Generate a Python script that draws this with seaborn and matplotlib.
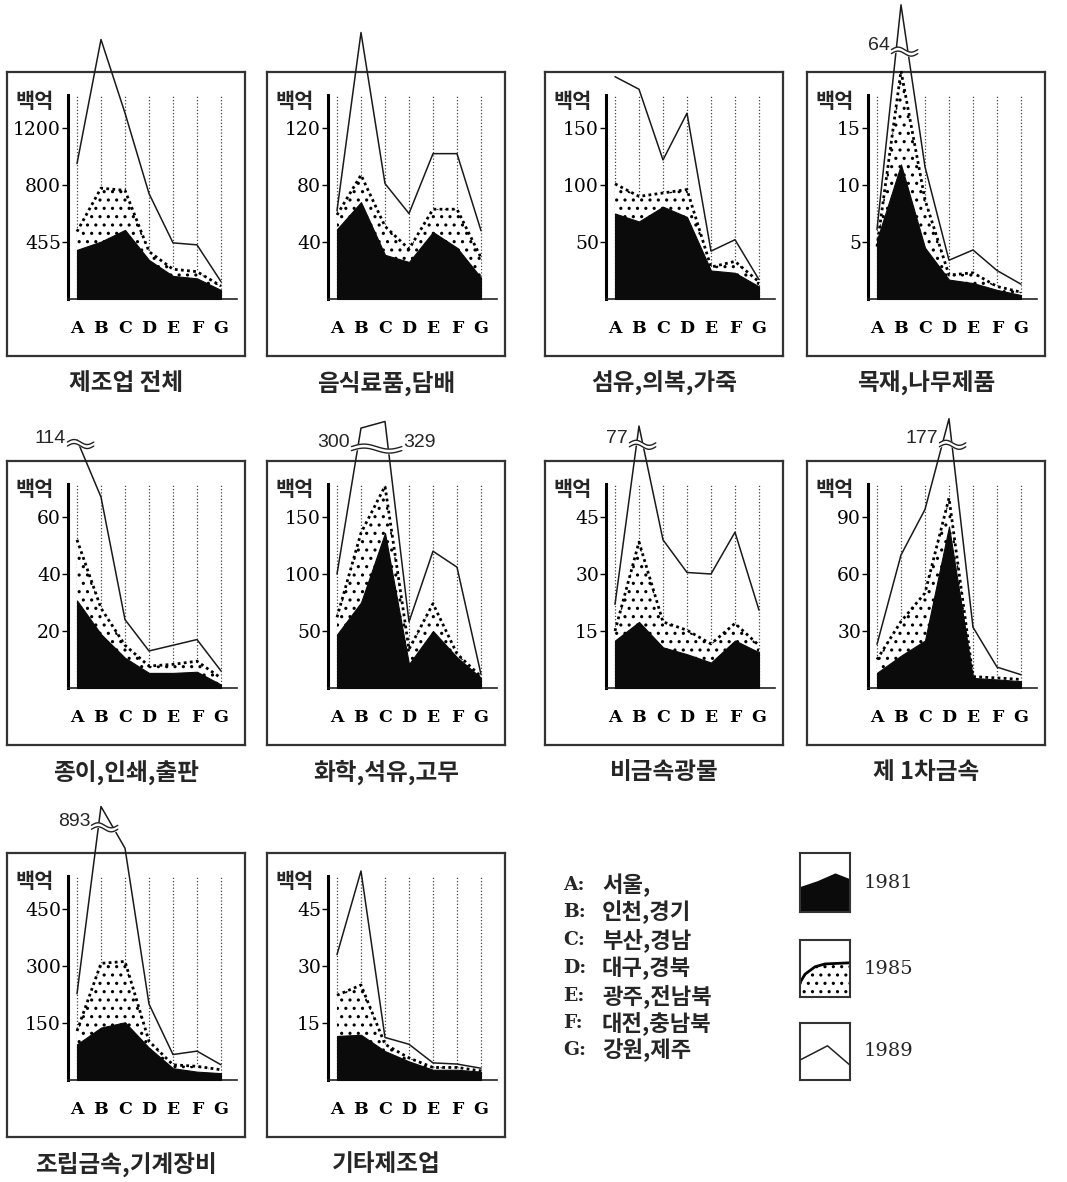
import numpy as np
import matplotlib
matplotlib.use("Agg")
import matplotlib.pyplot as plt
import seaborn as sns

# 지역 / 업종
regions = ["A", "B", "C", "D", "E", "F", "G"]
region_names = ["서울,", "인천,경기", "부산,경남", "대구,경북", "광주,전남북", "대전,충남북", "강원,제주"]
titles = ["제조업 전체", "음식료품,담배", "섬유,의복,가죽", "목재,나무제품",
          "종이,인쇄,출판", "화학,석유,고무", "비금속광물", "제 1차금속",
          "조립금속,기계장비", "기타제조업"]
years = ["1981", "1985", "1989"]

# y축 눈금 (백억)
y_ticks = [[400, 800, 1200], [40, 80, 120], [50, 100, 150], [5, 10, 15],
           [20, 40, 60], [50, 100, 150], [15, 30, 45], [30, 60, 90],
           [150, 300, 450], [15, 30, 45]]
y_ticklabels = [["455", "800", "1200"], ["40", "80", "120"], ["50", "100", "150"],
                ["5", "10", "15"], ["20", "40", "60"], ["50", "100", "150"],
                ["15", "30", "45"], ["30", "60", "90"], ["150", "300", "450"],
                ["15", "30", "45"]]

# 지역별 생산액 (A..G), 업종 순서는 titles와 같음
v1981 = [[345, 403, 485, 274, 162, 145, 63],
         [49, 68, 31, 26, 47, 36, 15],
         [75, 68, 81, 72, 25, 23, 11],
         [5.2, 11.8, 4.5, 1.7, 1.4, 0.8, 0.35],
         [30.7, 18.9, 10.6, 5.3, 5.3, 5.7, 1.2],
         [47, 75, 136, 21, 50, 27, 9],
         [12.5, 17.4, 10.7, 8.9, 6.7, 12.5, 9.4],
         [8, 17, 25, 85, 5.3, 4.5, 3.6],
         [94, 138, 152, 85, 31, 22, 18],
         [11.6, 11.9, 7.6, 4.9, 2.7, 2.7, 2.2]]
v1985 = [[473, 778, 762, 333, 209, 192, 91],
         [59, 87, 51, 35, 63, 63, 29],
         [101, 90, 93, 96, 28, 33, 15],
         [4.6, 20, 8.7, 2.1, 2.3, 1.1, 0.6],
         [52, 28, 15, 7.7, 8.3, 9.4, 3.5],
         [62, 136, 177, 34, 74, 30, 10],
         [15, 38.4, 17.4, 15.2, 11.6, 17, 11.2],
         [15, 35, 50, 100, 6, 5.3, 4.5],
         [129, 307, 312, 102, 40, 36, 27],
         [22.3, 25, 9.4, 5.8, 3.3, 3.3, 2.4]]
v1989 = [[950, 1821, 1305, 740, 394, 380, 122],
         [62, 187, 81, 60, 102, 102, 48],
         [195, 184, 122, 163, 42, 52, 17],
         [6.1, 64, 11.6, 3.4, 4.3, 2.5, 1.3],
         [114, 67, 24, 13, 15, 17, 6],
         [100, 300, 329, 58, 120, 106, 12],
         [22, 77, 39, 30.4, 30, 41, 20.5],
         [23, 70, 94, 177, 32, 11, 7],
         [227, 893, 610, 200, 67, 76, 40],
         [33, 55, 11.2, 9.4, 4.5, 4.2, 3.1]]

# 축 생략 표시: (생략 위치 값, 생략 위쪽 압축 비율)
breaks = [None, None, None, (21.7, 0.097), (85.6, 0.05), (210, 0.2),
          (64, 0.38), (128, 0.28), (665, 0.24), None]

sns.set_theme(style="white")
plt.rcParams["font.family"] = ["Noto Sans CJK KR", "DejaVu Sans"]
plt.rcParams["hatch.linewidth"] = 1.1

W, H = 1067, 1182
fig = plt.figure(figsize=(W / 100, H / 100), dpi=100)


def rect(x, y, w, h):
    return [x / W, 1 - (y + h) / H, w / W, h / H]


col_x = [7, 267, 545, 807]
row_y = [72, 461, 853]
xs = np.arange(len(regions))

for i in range(len(titles)):
    x0 = col_x[i % 4]
    y0 = row_y[i // 4]

    # 바깥 테두리
    frame = fig.add_axes(rect(x0, y0, 238, 284))
    frame.set_xticks([])
    frame.set_yticks([])
    frame.set_facecolor("none")
    for s in frame.spines.values():
        s.set_color("#333333")
        s.set_linewidth(1.6)

    ax = fig.add_axes(rect(x0 + 61, y0 + 23, 169, 204))
    ax.set_facecolor("none")
    top = y_ticks[i][-1] * 1.193
    upp = top / 204  # 1픽셀당 값
    ax.set_xlim(-0.375, 6.667)
    ax.set_ylim(0, top)

    ax.vlines(xs, 0, top, colors="#444444", linestyles=(0, (1, 1.6)), lw=0.9, zorder=1)
    ax.fill_between(xs, 0, v1985[i], facecolor="white", edgecolor="black",
                    hatch="..", lw=0, zorder=2, clip_on=False)
    ax.plot(xs, v1985[i], color="black", lw=2.0, ls=(0, (1, 1.2)), zorder=3, clip_on=False)
    ax.fill_between(xs, 0, v1981[i], color="#0b0b0b", lw=0.8, zorder=4, clip_on=False)

    disp = np.array(v1989[i], dtype=float)
    if breaks[i] is not None:
        brk, k = breaks[i]
        over = disp > brk
        disp[over] = brk + (disp[over] - brk) * k
    sns.lineplot(x=xs, y=disp, ax=ax, color="#1a1a1a", lw=1.1, zorder=6, clip_on=False)

    if breaks[i] is not None:
        idx = np.where(over)[0]
        wx = np.linspace(idx[0] - 0.4, idx[-1] + 0.7, 40)
        wy = brk + 2.5 * upp * np.sin(np.linspace(0, 2 * np.pi, 40))
        ax.fill_between(wx, wy - 2 * upp, wy + 2 * upp, color="white", zorder=7, clip_on=False)
        ax.plot(wx, wy - 2 * upp, color="#222222", lw=1, zorder=8, clip_on=False)
        ax.plot(wx, wy + 2 * upp, color="#222222", lw=1, zorder=8, clip_on=False)
        vals = [v1989[i][j] for j in idx]
        ax.text(wx[0] - 0.05, brk + 6 * upp, f"{vals[0]:g}", ha="right", va="center",
                fontsize=14, family="Liberation Sans", zorder=9)
        if len(vals) > 1:
            ax.text(wx[-1] + 0.05, brk + 6 * upp, f"{vals[-1]:g}", ha="left", va="center",
                    fontsize=14, family="Liberation Sans", zorder=9)

    ax.set_xlabel("")
    ax.set_ylabel("")
    for side in ["top", "right"]:
        ax.spines[side].set_visible(False)
    ax.spines["left"].set_linewidth(2.2)
    ax.spines["left"].set_color("black")
    ax.spines["bottom"].set_linewidth(1.2)
    ax.spines["bottom"].set_color("#222222")

    ax.set_yticks(y_ticks[i])
    ax.set_yticklabels(y_ticklabels[i], family="DejaVu Serif", fontsize=13.5)
    ax.tick_params(axis="y", left=True, direction="out", length=4, width=1, pad=1, colors="black")
    ax.set_xticks(xs)
    ax.set_xticklabels(regions, family="DejaVu Serif", fontweight="bold", fontsize=12.5)
    ax.tick_params(axis="x", length=0, pad=15, colors="black")

    fig.text((x0 + 8) / W, 1 - (y0 + 29) / H, "백억", fontsize=15, fontweight="bold", va="center")
    fig.text((x0 + 119) / W, 1 - (y0 + 311) / H, titles[i], ha="center", va="center",
             fontsize=17, fontweight="bold")

# 범례: 지역
leg_y = [885, 912, 940, 968, 996, 1023, 1050]
for r, name, y in zip(regions, region_names, leg_y):
    fig.text(563 / W, 1 - y / H, r + ":", family="DejaVu Serif", fontweight="bold",
             fontsize=13.5, va="center")
    fig.text(602 / W, 1 - y / H, name, fontsize=16, fontweight="bold", va="center")

# 범례: 연도
box_y = [(853, 59), (940, 57), (1023, 57)]
for n, (by, bh) in enumerate(box_y):
    sw = fig.add_axes(rect(800, by, 50, bh))
    sw.set_xlim(0, 1)
    sw.set_ylim(0, 1)
    sw.set_xticks([])
    sw.set_yticks([])
    for s in sw.spines.values():
        s.set_color("#333333")
        s.set_linewidth(1.5)
    if n == 0:
        sw.fill_between([0, 0.35, 0.7, 1], 0, [0.42, 0.52, 0.65, 0.55], color="#0b0b0b")
    elif n == 1:
        sw.fill_between([0, 0.1, 0.3, 0.5, 1], 0, [0.25, 0.4, 0.53, 0.58, 0.6],
                        facecolor="white", edgecolor="black", hatch="..", lw=0)
        sw.plot([0, 0.1, 0.3, 0.5, 1], [0.25, 0.4, 0.53, 0.58, 0.6], color="black", lw=2)
    else:
        sw.plot([0, 0.55, 1], [0.35, 0.6, 0.26], color="#222222", lw=1.1)
    fig.text(864 / W, 1 - (by + bh / 2) / H, years[n], family="DejaVu Serif",
             fontsize=14, va="center")

fig.savefig("out.png", dpi=100)
